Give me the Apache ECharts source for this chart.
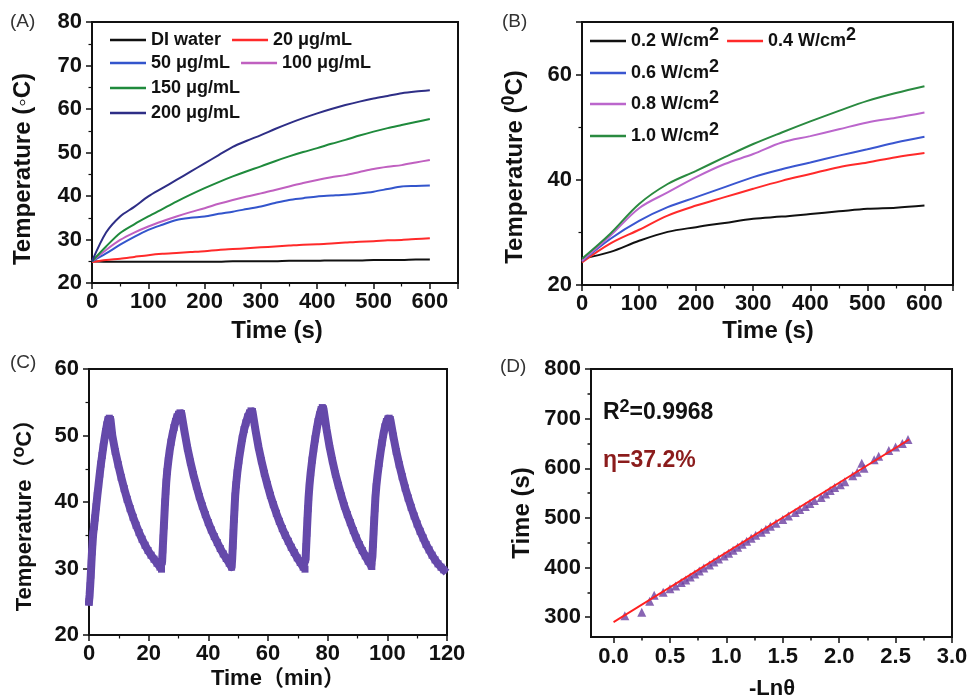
<!DOCTYPE html>
<html><head><meta charset="utf-8">
<script src="https://cdn.jsdelivr.net/npm/echarts@6/dist/echarts.min.js"></script>
<style>html,body{margin:0;padding:0;background:#fff}#c{width:969px;height:700px}</style>
</head><body><div id="c"></div>
<script>
// ---------- Panel A data ----------
const timeA = [0,25,50,75,100,125,150,175,200,225,250,275,300,325,350,375,400,425,450,475,500,525,550,575,600];
const namesA = ['DI water','20 μg/mL','50 μg/mL','100 μg/mL','150 μg/mL','200 μg/mL'];
const aWater = [25.0,24.9,24.9,24.9,24.9,24.9,24.9,24.9,24.9,24.9,25.0,25.0,25.0,25.0,25.1,25.1,25.1,25.2,25.2,25.2,25.3,25.3,25.3,25.4,25.4];
const a20  = [24.8,25.3,25.6,26.0,26.4,26.7,26.9,27.1,27.3,27.6,27.8,28.0,28.2,28.4,28.6,28.8,28.9,29.1,29.3,29.5,29.6,29.8,29.9,30.1,30.3];
const a50  = [25.0,26.8,28.8,30.6,32.2,33.4,34.5,35.0,35.3,35.9,36.4,37.0,37.6,38.4,39.1,39.5,39.9,40.1,40.3,40.6,41.0,41.6,42.2,42.3,42.4];
const a100 = [25.0,27.6,29.9,31.6,33.0,34.2,35.3,36.3,37.2,38.2,39.1,39.9,40.6,41.4,42.2,43.0,43.7,44.3,44.8,45.5,46.2,46.7,47.1,47.7,48.3];
const a150 = [25.0,28.4,31.5,33.5,35.3,37.0,38.7,40.3,41.8,43.2,44.5,45.7,46.8,48.0,49.1,50.1,51.0,52.0,52.9,53.9,54.8,55.6,56.3,57.0,57.7];
const a200 = [25.0,31.6,35.3,37.5,39.9,41.8,43.7,45.6,47.5,49.4,51.3,52.7,54.0,55.4,56.7,57.9,59.0,60.0,60.9,61.7,62.4,63.0,63.6,64.0,64.3];
const colorsA = ['#111111','#ff2a2a','#3355cc','#c060c0','#1f8a3c','#2e2e86'];

// ---------- Panel B data ----------
const timeB = [0,50,100,150,200,250,300,350,400,450,500,550,600];
const namesB = ['0.2','0.4','0.6','0.8','1.0'];
const b02 = [25.0,26.3,28.4,30.1,31.0,31.8,32.6,33.0,33.5,34.0,34.5,34.7,35.1];
const b04 = [24.3,27.9,30.5,33.2,35.1,36.7,38.3,39.8,41.1,42.4,43.3,44.3,45.1];
const b06 = [24.5,28.8,32.2,34.8,36.7,38.6,40.5,42.0,43.3,44.6,45.8,47.1,48.2];
const b08 = [24.6,29.4,34.6,37.6,40.5,43.0,44.9,47.1,48.3,49.6,50.9,51.8,52.8];
const b10 = [25.0,29.8,35.4,39.2,41.7,44.3,46.8,49.0,51.1,53.1,55.0,56.5,57.8];
const colorsB = ['#111111','#ff2a2a','#3a56d0','#bb66cc','#2a8a40'];

// ---------- Panel C data (time in min, temperature in °C) ----------
const cTime = [
 0.0,0.2,0.4,0.6,0.8,1.0,1.2,1.4,1.7,2.0,2.4,2.8,3.2,3.6,4.0,4.4,4.8,5.2,5.6,6.0,6.4,6.8,7.2,
 7.8,8.8,9.8,10.8,11.8,12.8,13.8,14.8,15.8,16.8,17.8,18.8,19.8,20.8,21.8,22.8,23.8,24.3,
 24.5,24.7,24.9,25.1,25.3,25.5,25.7,25.9,26.2,26.6,27.0,27.5,28.0,28.5,29.0,29.5,30.0,30.5,31.0,
 32.0,33.0,34.0,35.0,36.0,37.0,38.0,39.0,40.0,41.0,42.0,43.0,44.0,45.0,46.0,47.0,47.8,
 48.0,48.2,48.4,48.6,48.8,49.0,49.3,49.7,50.2,50.8,51.4,52.0,52.6,53.2,53.8,54.3,54.8,
 55.8,56.8,57.8,58.8,59.8,60.8,61.8,62.8,63.8,64.8,65.8,66.8,67.8,68.8,69.8,70.8,71.8,72.4,
 72.6,72.8,73.0,73.2,73.4,73.6,73.9,74.3,74.8,75.3,75.8,76.3,76.8,77.3,77.8,78.2,78.6,
 79.6,80.6,81.6,82.6,83.6,84.6,85.6,86.6,87.6,88.6,89.6,90.6,91.6,92.6,93.6,94.6,94.8,
 95.0,95.2,95.4,95.6,95.8,96.0,96.3,96.7,97.2,97.7,98.2,98.7,99.2,99.7,100.2,100.6,101.0,
 102.0,103.0,104.0,105.0,106.0,107.0,108.0,109.0,110.0,111.0,112.0,113.0,114.0,115.0,116.0,117.0,118.0,118.9];
const cTemp = [
 25.0,26.0,27.4,29.0,30.8,32.5,34.0,35.2,36.3,37.6,39.3,41.0,42.6,44.2,45.7,47.0,48.3,49.5,50.6,51.6,52.4,52.6,52.4,
 50.0,47.6,45.6,43.7,42.0,40.4,39.0,37.7,36.5,35.4,34.4,33.5,32.7,32.0,31.4,30.8,30.2,29.9,
 31.0,32.8,34.6,36.4,38.2,40.0,41.6,43.0,44.6,46.2,47.6,49.0,50.2,51.2,52.1,52.8,53.2,53.4,53.3,
 50.6,48.1,46.0,44.1,42.4,40.8,39.4,38.1,36.9,35.8,34.8,33.9,33.0,32.2,31.5,30.8,30.2,
 31.5,33.4,35.4,37.4,39.2,40.9,42.6,44.4,46.2,48.0,49.6,50.9,51.9,52.8,53.4,53.7,53.6,
 50.8,48.3,46.2,44.3,42.6,41.0,39.6,38.3,37.1,36.0,35.0,34.1,33.2,32.4,31.6,30.9,30.2,29.9,
 31.4,33.3,35.3,37.2,39.0,40.7,42.5,44.4,46.3,48.0,49.5,50.9,52.1,53.1,53.9,54.2,54.0,
 51.0,48.4,46.2,44.2,42.5,40.9,39.4,38.1,36.9,35.7,34.6,33.6,32.7,31.9,31.1,30.4,30.3,
 31.8,33.6,35.5,37.3,39.0,40.6,42.3,44.0,45.8,47.4,48.9,50.2,51.3,52.1,52.5,52.6,52.4,
 49.9,47.6,45.6,43.8,42.1,40.6,39.2,37.9,36.7,35.6,34.6,33.6,32.8,32.0,31.3,30.7,30.2,29.8];

// ---------- Panel D data ----------
const dX = [0.10,0.25,0.32,0.36,0.44,0.50,0.55,0.60,0.64,0.68,0.72,0.76,0.80,0.85,0.89,0.93,0.98,1.02,1.06,1.10,1.14,1.18,1.22,1.26,1.31,1.35,1.39,1.44,1.50,1.55,1.61,1.65,1.70,1.74,1.78,1.84,1.88,1.92,1.96,2.01,2.05,2.12,2.16,2.20,2.22,2.31,2.35,2.44,2.50,2.56,2.61];
const dY = [303,310,332,344,350,357,363,370,375,381,387,393,399,405,411,417,423,429,435,441,447,453,459,465,471,477,483,489,497,504,511,517,523,529,535,541,548,555,561,567,573,585,592,610,600,617,624,636,643,650,658];
const fitX = [0, 2.62];
const fitY = [290, 658];

// tick values
const dXLabels = [0,0.5,1.0,1.5,2.0,2.5,3.0];
const dXMinor = [0.25,0.75,1.25,1.75,2.25,2.75];
const dYLabels = [300,400,500,600,700,800];
const dYMinor = [350,450,550,650,750];

// ---------- styles ----------
const F = '"Liberation Sans", Arial, sans-serif';
const FC = '"Liberation Sans", "Noto Sans CJK SC", sans-serif';
const K = '#111111';
const zip = (xs, ys) => xs.map((x, i) => [x, ys[i]]);

const axisLine = {show:true, onZero:false, lineStyle:{color:K, width:2}};
const hiddenLine = {show:false, onZero:false};
const axisTick = {show:true, inside:false, length:6, lineStyle:{color:K, width:1.5}};
const minorTick = {show:true, splitNumber:2, length:3.5, lineStyle:{color:K, width:1.2}};
const lab = {color:K, fontSize:22, fontWeight:'bold', fontFamily:F};
const noSplit = {show:false};

function vAxis(o) {
  return Object.assign({type:'value', axisLine, axisTick, minorTick, splitLine:noSplit, minorSplitLine:noSplit}, o);
}

const grids = [
  {left:92, top:22, width:366, height:261},
  {left:582, top:22, width:371, height:263},
  {left:89, top:369, width:358, height:266},
  {left:591, top:369, width:361, height:268}
].map(g => Object.assign({show:true, borderColor:K, borderWidth:2, containLabel:false, outerBoundsMode:'none'}, g));

const xAxes = [
  vAxis({gridIndex:0, min:0, max:650, interval:100, axisLabel:Object.assign({}, lab, {margin:8, showMaxLabel:false})}),
  vAxis({gridIndex:1, min:0, max:650, interval:100, axisLabel:Object.assign({}, lab, {margin:8, showMaxLabel:false})}),
  vAxis({gridIndex:2, min:0, max:120, interval:20, axisLabel:Object.assign({}, lab, {margin:8})}),
  {type:'value', gridIndex:3, position:'bottom', min:-0.2, max:3.0, axisLine, splitLine:noSplit,
    axisTick:Object.assign({}, axisTick, {customValues:dXLabels}),
    axisLabel:Object.assign({}, lab, {margin:9, customValues:dXLabels, formatter:v => Number(v).toFixed(1)})},
  {type:'value', gridIndex:3, position:'bottom', min:-0.2, max:3.0, axisLine:hiddenLine, splitLine:noSplit,
    axisTick:Object.assign({}, axisTick, {length:3.5, customValues:dXMinor}),
    axisLabel:{show:false}}
];
const yAxes = [
  vAxis({gridIndex:0, min:20, max:80, interval:10, axisLabel:Object.assign({}, lab, {margin:10})}),
  vAxis({gridIndex:1, min:20, max:70, interval:20, axisLabel:Object.assign({}, lab, {margin:10, showMaxLabel:false})}),
  vAxis({gridIndex:2, min:20, max:60, interval:10, axisLabel:Object.assign({}, lab, {margin:10})}),
  {type:'value', gridIndex:3, position:'left', min:260, max:800, axisLine, splitLine:noSplit,
    axisTick:Object.assign({}, axisTick, {customValues:dYLabels}),
    axisLabel:Object.assign({}, lab, {margin:10, customValues:dYLabels})},
  {type:'value', gridIndex:3, position:'left', min:260, max:800, axisLine:hiddenLine, splitLine:noSplit,
    axisTick:Object.assign({}, axisTick, {length:3.5, customValues:dYMinor}),
    axisLabel:{show:false}}
];

const series = [];
[aWater, a20, a50, a100, a150, a200].forEach((v, i) => {
  series.push({name:namesA[i], type:'line', xAxisIndex:0, yAxisIndex:0, data:zip(timeA, v),
    symbol:'none', smooth:0.3, color:colorsA[i], lineStyle:{width:2, color:colorsA[i]}, z:3 + (i === 0 ? 0 : 1)});
});
[b02, b04, b06, b08, b10].forEach((v, i) => {
  series.push({name:namesB[i], type:'line', xAxisIndex:1, yAxisIndex:1, data:zip(timeB, v),
    symbol:'none', smooth:0.35, color:colorsB[i], lineStyle:{width:2, color:colorsB[i]}});
});
series.push({name:'cycle', type:'line', xAxisIndex:2, yAxisIndex:2, data:zip(cTime, cTemp),
  symbol:'rect', symbolSize:7, showAllSymbol:true, color:'#6549aa',
  lineStyle:{width:8, color:'#6549aa', join:'round', cap:'square'}, itemStyle:{color:'#6549aa'}});
series.push({name:'points', type:'scatter', xAxisIndex:3, yAxisIndex:3, data:zip(dX, dY),
  symbol:'triangle', symbolSize:9, itemStyle:{color:'#6b3fa0'}, z:2});
series.push({name:'fit', type:'line', xAxisIndex:3, yAxisIndex:3, data:zip(fitX, fitY),
  symbol:'none', lineStyle:{width:1.8, color:'#ff2020'}, z:3});

const legText = {fontSize:18, fontWeight:'bold', fontFamily:F, color:K};
function legA(data, top) {
  return {data, left:110, top, orient:'horizontal', padding:0, itemGap:11, itemWidth:36, itemHeight:2.5,
    icon:'rect', selectedMode:false, textStyle:legText};
}
function legB(data, top) {
  return {data, left:590, top, orient:'horizontal', padding:0, itemGap:8, itemWidth:36, itemHeight:2.5,
    icon:'rect', selectedMode:false,
    formatter: n => '{t|' + n + ' W/cm}{s|2}',
    textStyle:Object.assign({}, legText, {rich:{
      t:{fontSize:18, fontWeight:'bold', fontFamily:F, color:K},
      s:{fontSize:18, fontWeight:'bold', fontFamily:F, color:K, padding:[0,0,12,0]}
    }})};
}
const legends = [
  legA(['DI water','20 μg/mL'], 31),
  legA(['50 μg/mL','100 μg/mL'], 54),
  legA(['150 μg/mL'], 79),
  legA(['200 μg/mL'], 104),
  legB(['0.2','0.4'], 26),
  legB(['0.6'], 58),
  legB(['0.8'], 89),
  legB(['1.0'], 121)
];

const ttl = {fontSize:24, fontWeight:'bold', fontFamily:F, fill:K};
function txt(text, x, y, extra, rot) {
  return {type:'text', x, y, rotation:rot || 0, silent:true,
    style:Object.assign({text, align:'center', verticalAlign:'middle'}, ttl, extra || {})};
}
const sup = (size, pad) => ({fontSize:size, fontWeight:'bold', fontFamily:FC, fill:K, padding:[0,0,pad,0]});
const base = (size) => ({fontSize:size, fontWeight:'bold', fontFamily:FC, fill:K});
const R90 = Math.PI / 2;
const graphics = [
  txt('(A)', 10, 22, {align:'left', fontSize:19, fontWeight:'normal', fill:'#333'}),
  txt('(B)', 502, 22, {align:'left', fontSize:19, fontWeight:'normal', fill:'#333'}),
  txt('(C)', 10, 363, {align:'left', fontSize:19, fontWeight:'normal', fill:'#333'}),
  txt('(D)', 500, 367, {align:'left', fontSize:19, fontWeight:'normal', fill:'#333'}),
  txt('Time (s)', 277, 331),
  txt('Time (s)', 768, 331),
  txt('Time（min）', 278, 679, {fontFamily:FC, fontSize:22}),
  txt('-Lnθ', 772, 689, {fontSize:22}),
  txt('Temperature (◦C)', 23, 169, {fontFamily:'"Liberation Sans", "DejaVu Sans", sans-serif'}, R90),
  txt('{b|Temperature (}{s|0}{b|C)}', 515, 167, {rich:{b:base(24), s:sup(18, 12)}}, R90),
  txt('{b|Temperature（}{s|o}{b|C）}', 25, 510, {rich:{b:base(22), s:sup(18, 12)}}, R90),
  txt('Time (s)', 522, 513, {}, R90),
  txt('{b|R}{s|2}{b|=0.9968}', 603, 413, {align:'left', rich:{b:base(23), s:sup(18, 12)}}),
  txt('η=37.2%', 603, 461, {align:'left', fontSize:23, fill:'#8b1c1c'})
];

const chart = echarts.init(document.getElementById('c'), null, {renderer:'canvas'});
chart.setOption({
  animation:false,
  backgroundColor:'#ffffff',
  grid:grids,
  xAxis:xAxes,
  yAxis:yAxes,
  legend:legends,
  series,
  graphic:graphics
});
</script></body></html>
